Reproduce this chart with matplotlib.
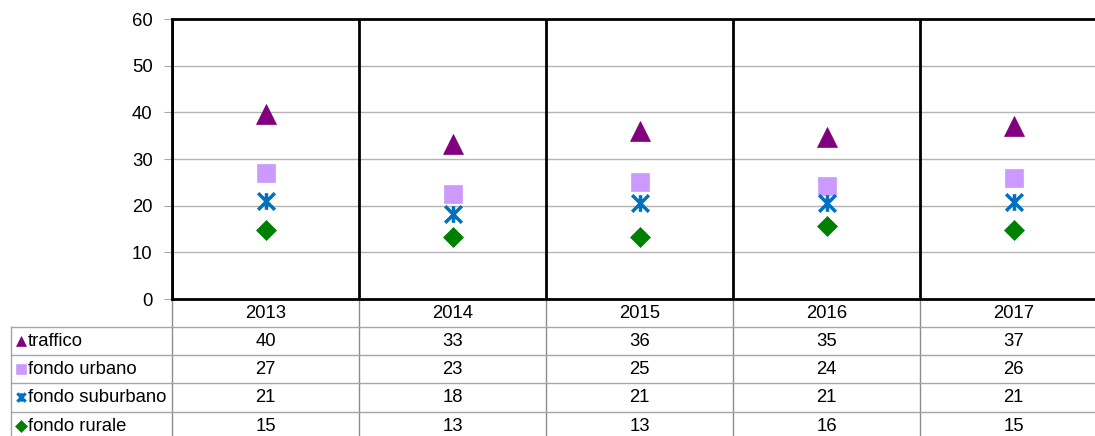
import matplotlib.pyplot as plt
from matplotlib.path import Path
from matplotlib.transforms import blended_transform_factory

years = ["2013", "2014", "2015", "2016", "2017"]
series_names = ["traffico", "fondo urbano", "fondo suburbano", "fondo rurale"]
traffico = [39.6, 33.2, 36.1, 34.8, 37.0]
fondo_urbano = [27.1, 22.5, 25.1, 24.3, 26.0]
fondo_suburbano = [21.1, 18.2, 20.6, 20.5, 20.8]
fondo_rurale = [14.8, 13.2, 13.3, 15.6, 14.7]
table_values = [
    [40, 33, 36, 35, 37],
    [27, 23, 25, 24, 26],
    [21, 18, 21, 21, 21],
    [15, 13, 13, 16, 15],
]

plt.rcParams["font.family"] = ["Liberation Sans", "DejaVu Sans"]
FS = 13.3

# excel-like star: an X with a vertical bar through it
star = Path([(-1, -1), (1, 1), (-1, 1), (1, -1), (0, -1), (0, 1)],
            [Path.MOVETO, Path.LINETO, Path.MOVETO, Path.LINETO, Path.MOVETO, Path.LINETO])

styles = [
    dict(marker="^", color="#800080", ms=14),
    dict(marker="s", color="#CC99FF", ms=12.5),
    dict(marker=star, color="#0070C0", ms=12, mew=2.5),
    dict(marker="D", color="#008000", ms=10),
]
all_series = [traffico, fondo_urbano, fondo_suburbano, fondo_rurale]

W, H = 1095, 436
fig = plt.figure(figsize=(W / 100, H / 100), dpi=100)
x0, x1, y_top, y_bot = 172, 1107, 19, 299
ax = fig.add_axes([x0 / W, 1 - y_bot / H, (x1 - x0) / W, (y_bot - y_top) / H])

xs = list(range(len(years)))
for vals, st in zip(all_series, styles):
    ax.plot(xs, vals, linestyle="none", marker=st["marker"], color=st["color"],
            markersize=st["ms"], markeredgewidth=st.get("mew", 0.5), zorder=5)

ax.set_xlim(-0.5, len(years) - 0.5)
ax.set_ylim(0, 60)
ax.set_yticks(range(0, 61, 10))
ax.yaxis.grid(True, color="#B4B4B4", linewidth=1)
ax.set_axisbelow(True)
ax.set_xticks([])
ax.tick_params(axis="y", length=6, color="#A6A6A6", labelsize=FS, pad=8)
for x in range(len(years)):
    ax.axvline(x - 0.5, color="black", linewidth=2, zorder=3)
for side in ["top", "left", "bottom"]:
    ax.spines[side].set_linewidth(2)
ax.spines["right"].set_visible(False)

# data table under the chart
tr = blended_transform_factory(ax.transData, fig.transFigure)
row_lines = [327, 355, 383, 412]
row_centers = [313, 341, 369, 397, 426]
fy = lambda p: 1 - p / H

for i, yr in enumerate(years):
    ax.text(i, fy(row_centers[0]), yr, transform=tr, ha="center", va="center",
            fontsize=FS, clip_on=False)
    for r, row in enumerate(table_values):
        ax.text(i, fy(row_centers[r + 1]), str(row[i]), transform=tr, ha="center",
                va="center", fontsize=FS, clip_on=False)
    ax.plot([i - 0.5, i - 0.5], [fy(y_bot), 0], transform=tr, color="#8C8C8C",
            linewidth=1, clip_on=False)

for yl in row_lines:
    fig.add_artist(plt.Line2D([11 / W, 1], [fy(yl), fy(yl)], color="#A6A6A6", linewidth=1))
fig.add_artist(plt.Line2D([11 / W, 11 / W], [fy(row_lines[0]), 0], color="#A6A6A6", linewidth=1))

legend_ms = [7.5, 7, 6, 6]
for r, (name, st) in enumerate(zip(series_names, styles)):
    yc = fy(row_centers[r + 1])
    fig.add_artist(plt.Line2D([21 / W], [yc], marker=st["marker"], color=st["color"],
                              markersize=legend_ms[r], markeredgewidth=st.get("mew", 0.5) * 0.9,
                              linestyle="none"))
    fig.text(28 / W, yc, name, ha="left", va="center", fontsize=FS)

fig.savefig("out.png", dpi=100)
